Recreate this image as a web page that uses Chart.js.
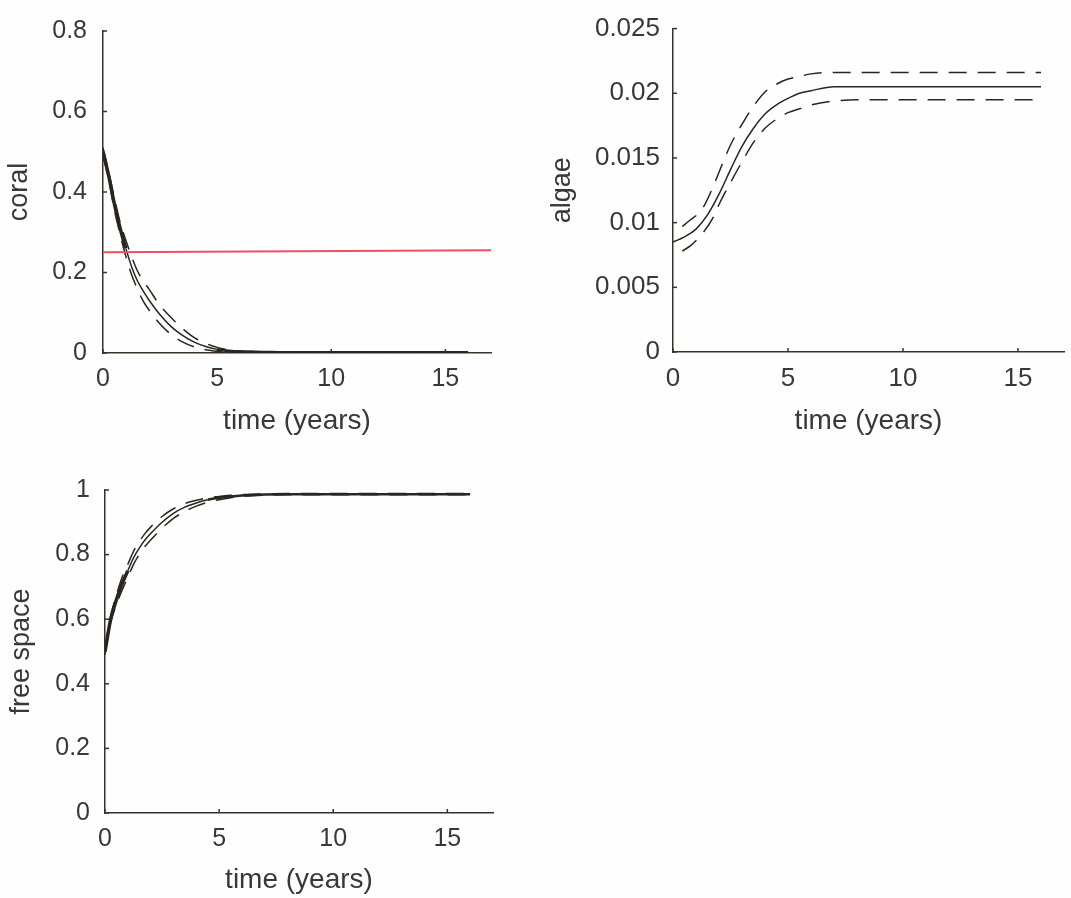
<!DOCTYPE html>
<html><head><meta charset="utf-8">
<script src="https://cdn.jsdelivr.net/npm/chart.js@4/dist/chart.umd.min.js"></script>
<style>
html,body{margin:0;padding:0;background:#fefefe;}
#wrap{position:relative;width:1071px;height:898px;overflow:hidden;background:#fefefe;}
.p{position:absolute;}
canvas{display:block;}
</style></head><body>
<div id="wrap">
  <div class="p" style="left:0;top:0;width:530px;height:450px"><canvas id="c1" width="530" height="450"></canvas></div>
  <div class="p" style="left:530px;top:0;width:541px;height:450px"><canvas id="c2" width="541" height="450"></canvas></div>
  <div class="p" style="left:0;top:460px;width:530px;height:438px"><canvas id="c3" width="530" height="438"></canvas></div>
</div>
<script>
// ---------- data ----------
const xTicks = [0, 5, 10, 15];
const coralYTicks = [0, 0.2, 0.4, 0.6, 0.8];
const algaeYTicks = [0, 0.005, 0.01, 0.015, 0.02, 0.025];
const freeYTicks = [0, 0.2, 0.4, 0.6, 0.8, 1];

const coralTime  = [0, 0.25, 0.5, 0.75, 1, 1.25, 1.5, 1.75, 2, 2.5, 3, 3.5, 4, 4.5, 5, 5.5, 6, 7, 8, 10, 12, 14, 16];
const coralMean  = [0.50, 0.44, 0.37, 0.31, 0.26, 0.215, 0.18, 0.155, 0.133, 0.095, 0.065, 0.043, 0.027, 0.016, 0.009, 0.005, 0.003, 0.002, 0.001, 0.001, 0.001, 0.001, 0.001];
const coralUpper = [0.51, 0.45, 0.385, 0.325, 0.28, 0.24, 0.205, 0.18, 0.16, 0.118, 0.087, 0.06, 0.038, 0.024, 0.014, 0.008, 0.005, 0.003, 0.002, 0.001, 0.001, 0.001, 0.001];
const coralLower = [0.49, 0.43, 0.355, 0.295, 0.24, 0.195, 0.16, 0.13, 0.108, 0.072, 0.045, 0.027, 0.015, 0.008, 0.004, 0.002, 0.001, 0.001, 0.001, 0, 0, 0, 0];
const thresholdTime  = [0, 17];
const thresholdValue = [0.25, 0.255];

const algaeTime  = [0, 0.5, 1, 1.5, 2, 2.5, 3, 3.5, 4, 4.5, 5, 5.5, 6, 7, 8, 10, 12, 14, 16];
const algaeMean  = [0.0085, 0.0089, 0.0095, 0.0106, 0.0122, 0.0141, 0.0159, 0.0173, 0.0184, 0.0191, 0.0196, 0.0200, 0.0202, 0.0205, 0.0205, 0.0205, 0.0205, 0.0205, 0.0205];
const algaeBandTime = [0.4, 0.75, 1.25, 1.75, 2, 2.5, 3, 3.5, 4, 4.5, 5, 5.5, 6, 7, 8, 10, 12, 14, 16];
const algaeUpper = [0.0097, 0.0102, 0.0110, 0.0128, 0.0139, 0.0160, 0.0176, 0.0190, 0.0201, 0.0207, 0.0211, 0.0213, 0.0215, 0.0216, 0.0216, 0.0216, 0.0216, 0.0216, 0.0216];
const algaeLower = [0.0078, 0.0082, 0.0091, 0.0104, 0.0114, 0.0131, 0.0147, 0.0162, 0.0173, 0.0180, 0.0185, 0.0188, 0.0191, 0.0194, 0.0195, 0.0195, 0.0195, 0.0195, 0.0195];

const freeTime  = [0, 0.25, 0.5, 0.75, 1, 1.25, 1.5, 1.75, 2, 2.5, 3, 3.5, 4, 4.5, 5, 5.5, 6, 7, 8, 10, 12, 14, 16];
const freeMean  = [0.50, 0.60, 0.66, 0.71, 0.75, 0.79, 0.82, 0.845, 0.865, 0.90, 0.928, 0.947, 0.96, 0.97, 0.976, 0.98, 0.983, 0.986, 0.987, 0.987, 0.987, 0.987, 0.987];
const freeUpper = [0.51, 0.61, 0.675, 0.73, 0.77, 0.81, 0.84, 0.865, 0.885, 0.918, 0.942, 0.958, 0.968, 0.976, 0.98, 0.984, 0.986, 0.988, 0.989, 0.989, 0.989, 0.989, 0.989];
const freeLower = [0.49, 0.59, 0.645, 0.69, 0.73, 0.77, 0.80, 0.825, 0.845, 0.882, 0.912, 0.934, 0.95, 0.962, 0.97, 0.976, 0.98, 0.984, 0.985, 0.985, 0.985, 0.985, 0.985];

// ---------- styling ----------
const lineColor = '#2a251e';
const axisColor = '#3a3229';
const textColor = '#3a3835';
const redColor  = '#ee4f62';
const FONT = "'Liberation Sans', Arial, sans-serif";

function pts(t, v) { return t.map((x, i) => ({ x: x, y: v[i] })); }
function solid(t, v, thick) {
  const d = { data: pts(t, v), borderColor: lineColor, borderWidth: 1.5, cubicInterpolationMode: 'monotone' };
  if (thick) d.segment = { borderWidth: ctx => thick(ctx.p0.parsed.x) };
  return d;
}
function dashed(t, v) { return { data: pts(t, v), borderColor: lineColor, borderWidth: 1.5, borderDash: [18, 11], cubicInterpolationMode: 'monotone' }; }

const innerTicks = {
  id: 'innerTicks',
  afterDraw(chart) {
    const ctx = chart.ctx, a = chart.chartArea;
    ctx.save();
    ctx.strokeStyle = axisColor; ctx.lineWidth = 1.5;
    const xs = chart.scales.x, ys = chart.scales.y;
    xs.ticks.forEach(t => { const px = xs.getPixelForValue(t.value); ctx.beginPath(); ctx.moveTo(px, a.bottom); ctx.lineTo(px, a.bottom - 4); ctx.stroke(); });
    ys.ticks.forEach(t => { const py = ys.getPixelForValue(t.value); ctx.beginPath(); ctx.moveTo(a.left, py); ctx.lineTo(a.left + 4, py); ctx.stroke(); });
    ctx.restore();
  }
};

function makeChart(id, c) {
  return new Chart(document.getElementById(id), {
    type: 'line',
    data: { datasets: c.datasets },
    plugins: [innerTicks],
    options: {
      responsive: false, animation: false, devicePixelRatio: 1,
      layout: { padding: { left: 0, top: c.top, right: c.right, bottom: 0 } },
      plugins: { legend: { display: false }, tooltip: { enabled: false } },
      elements: { point: { radius: 0 } },
      scales: {
        x: {
          type: 'linear', min: 0, max: 17,
          afterBuildTicks: s => { s.ticks = xTicks.map(v => ({ value: v })); },
          afterFit: s => { s.height = c.xH; },
          grid: { display: false, drawTicks: false },
          border: { display: true, color: axisColor, width: 1.5 },
          ticks: { padding: 11, maxRotation: 0, autoSkip: false, color: textColor, font: { family: FONT, size: c.tickSize }, callback: v => String(v) },
          title: { display: true, text: 'time (years)', color: textColor, font: { family: FONT, size: 28 }, padding: { top: 0, bottom: c.xTitlePad } }
        },
        y: {
          type: 'linear', min: 0, max: c.yMax,
          afterBuildTicks: s => { s.ticks = c.yTicks.map(v => ({ value: v })); },
          afterFit: s => { s.width = c.yW; },
          grid: { display: false, drawTicks: false },
          border: { display: true, color: axisColor, width: 1.5 },
          ticks: { padding: c.yTickPad, autoSkip: false, color: textColor, font: { family: FONT, size: c.tickSize }, callback: v => String(v) },
          title: { display: true, text: c.yLabel, color: textColor, font: { family: FONT, size: 27 }, padding: { top: c.yTitlePad, bottom: 0 } }
        }
      }
    }
  });
}

makeChart('c1', {
  top: 25, right: 39, xH: 97, yW: 103, yMax: 0.8, yTicks: coralYTicks, yLabel: 'coral',
  tickSize: 25, yTickPad: 16, yTitlePad: 3, xTitlePad: 12,
  datasets: [
    { data: pts(thresholdTime, thresholdValue), borderColor: redColor, borderWidth: 2 },
    dashed(coralTime, coralUpper),
    dashed(coralTime, coralLower),
    solid(coralTime, coralMean, x => (x < 0.9 ? 3.5 : (x >= 5 ? 3 : 1.5)))
  ]
});

makeChart('c2', {
  top: 22, right: 7, xH: 98, yW: 143, yMax: 0.025, yTicks: algaeYTicks, yLabel: 'algae',
  tickSize: 26, yTickPad: 13, yTitlePad: 16, xTitlePad: 12,
  datasets: [
    dashed(algaeBandTime, algaeUpper),
    dashed(algaeBandTime, algaeLower),
    solid(algaeTime, algaeMean)
  ]
});

makeChart('c3', {
  top: 25, right: 37, xH: 85, yW: 105, yMax: 1, yTicks: freeYTicks, yLabel: 'free space',
  tickSize: 25, yTickPad: 15, yTitlePad: 5, xTitlePad: 1,
  datasets: [
    dashed(freeTime, freeUpper),
    dashed(freeTime, freeLower),
    solid(freeTime, freeMean, x => (x < 0.9 ? 3.5 : (x >= 4.5 ? 2.5 : 1.5)))
  ]
});
</script>
</body></html>
